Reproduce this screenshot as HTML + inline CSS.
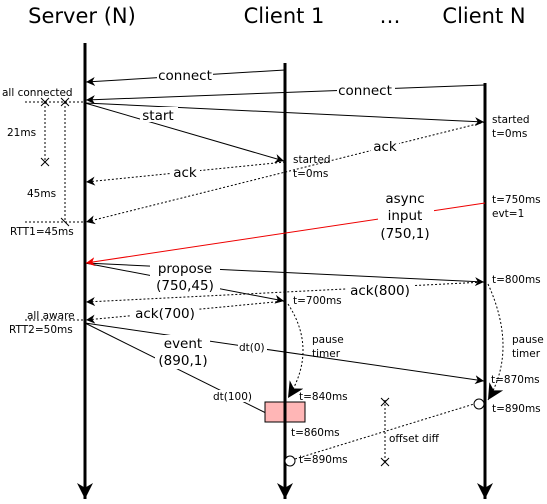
<!DOCTYPE html>
<html><head><meta charset="utf-8"><style>
html,body{margin:0;padding:0;background:#fff}
svg{display:block}
text{font-family:"DejaVu Sans","Liberation Sans",sans-serif;fill:#000}
</style></head><body>
<svg width="547" height="504" viewBox="0 0 547 504" xmlns="http://www.w3.org/2000/svg">
<defs>
<marker id="a" viewBox="0 0 10 10" refX="10" refY="5" markerWidth="9" markerHeight="9" orient="auto" markerUnits="userSpaceOnUse"><path d="M0,0 L10,5 L0,10 L3,5 z" fill="#000"/></marker>
<marker id="r" viewBox="0 0 10 10" refX="10" refY="5" markerWidth="9" markerHeight="9" orient="auto" markerUnits="userSpaceOnUse"><path d="M0,0 L10,5 L0,10 L3,5 z" fill="#e00"/></marker>
<marker id="b" viewBox="0 0 10 10" refX="10" refY="5" markerWidth="16" markerHeight="16" orient="auto" markerUnits="userSpaceOnUse"><path d="M0,0 L10,5 L0,10 L3,5 z" fill="#000"/></marker>
</defs>
<g font-size="21" text-anchor="middle">
<text x="82" y="23">Server (N)</text>
<text x="284" y="23">Client 1</text>
<text x="390" y="23">…</text>
<text x="484" y="23">Client N</text>
</g>
<g stroke="#000" stroke-width="3">
<line x1="85" y1="43" x2="85" y2="499" marker-end="url(#b)"/>
<line x1="285" y1="63" x2="285" y2="499" marker-end="url(#b)"/>
<line x1="485" y1="83" x2="485" y2="499" marker-end="url(#b)"/>
</g>
<g stroke="#000" stroke-width="1" fill="none">
<line x1="285" y1="70" x2="86" y2="82" marker-end="url(#a)"/>
<line x1="485" y1="85" x2="86" y2="100" marker-end="url(#a)"/>
<line x1="85" y1="103" x2="484" y2="122" marker-end="url(#a)"/>
<line x1="85" y1="103" x2="284" y2="161" marker-end="url(#a)"/>
<line x1="85" y1="263" x2="484" y2="282" marker-end="url(#a)"/>
<line x1="85" y1="263" x2="284" y2="301" marker-end="url(#a)"/>
<line x1="85" y1="323" x2="484" y2="381" marker-end="url(#a)"/>
<line x1="85" y1="323" x2="284" y2="422" marker-end="url(#a)"/>
</g>
<line x1="485" y1="203" x2="86" y2="263" stroke="#e00" stroke-width="1" marker-end="url(#r)"/>
<g stroke="#000" stroke-width="1" fill="none" stroke-dasharray="2,2">
<line x1="285" y1="162" x2="86" y2="182" marker-end="url(#a)"/>
<line x1="485" y1="122" x2="86" y2="222" marker-end="url(#a)"/>
<line x1="485" y1="282" x2="86" y2="302" marker-end="url(#a)"/>
<line x1="285" y1="301" x2="86" y2="320" marker-end="url(#a)"/>
<line x1="25" y1="102" x2="85" y2="102"/>
<line x1="25" y1="222" x2="85" y2="222"/>
<line x1="25" y1="320" x2="85" y2="320"/>
<line x1="45" y1="102" x2="45" y2="162"/>
<line x1="65" y1="102" x2="65" y2="222"/>
<path d="M288,304 Q318,350 288,398" marker-end="url(#b)"/>
<path d="M488,284 Q518,350 488,400" marker-end="url(#b)"/>
<line x1="295" y1="459" x2="474" y2="404"/>
<line x1="385" y1="400" x2="385" y2="462"/>
</g>
<g stroke="#000" stroke-width="1">
<path d="M41,98 l8,8 M41,106 l8,-8"/>
<path d="M61,98 l8,8 M61,106 l8,-8"/>
<path d="M41,158 l8,8 M41,166 l8,-8"/>
<path d="M61,218 l8,8"/>
<path d="M381,398 l8,8 M381,406 l8,-8"/>
<path d="M381,458 l8,8 M381,466 l8,-8"/>
</g>
<rect x="265" y="402" width="40" height="20" fill="#ffb6b6" stroke="#000" stroke-width="1"/>
<line x1="285" y1="402" x2="285" y2="422" stroke="#000" stroke-width="3"/>
<circle cx="290" cy="461" r="5" fill="#fff" stroke="#000"/>
<circle cx="479" cy="404" r="5" fill="#fff" stroke="#000"/>
<g font-size="13.5" text-anchor="middle">
<rect x="157" y="67" width="56" height="15" fill="#fff"/><text x="185" y="80">connect</text>
<rect x="337" y="82" width="58" height="15" fill="#fff"/><text x="365" y="95">connect</text>
<rect x="140" y="107" width="38" height="15" fill="#fff"/><text x="158" y="120">start</text>
<rect x="170" y="164" width="30" height="15" fill="#fff"/><text x="185" y="177">ack</text>
<rect x="371" y="138" width="28" height="15" fill="#fff"/><text x="385" y="151">ack</text>
<rect x="378" y="188" width="56" height="52" fill="#fff"/>
<text x="405" y="203">async</text><text x="405" y="220">input</text><text x="405" y="238">(750,1)</text>
<rect x="150" y="259" width="70" height="34" fill="#fff"/>
<text x="185" y="273">propose</text><text x="185" y="290">(750,45)</text>
<rect x="346" y="282" width="68" height="15" fill="#fff"/><text x="380" y="295">ack(800)</text>
<rect x="131" y="305" width="68" height="15" fill="#fff"/><text x="165" y="318">ack(700)</text>
<rect x="155" y="335" width="55" height="34" fill="#fff"/>
<text x="183" y="348">event</text><text x="183" y="365">(890,1)</text>
</g>
<g font-size="10.5">
<text x="2" y="96">all connected</text>
<text x="7" y="136">21ms</text>
<text x="27" y="197">45ms</text>
<text x="10" y="235">RTT1=45ms</text>
<text x="27" y="319">all aware</text>
<text x="9" y="333">RTT2=50ms</text>
<text x="293" y="163">started</text><text x="293" y="177">t=0ms</text>
<text x="492" y="123">started</text><text x="492" y="137">t=0ms</text>
<text x="492" y="203">t=750ms</text><text x="492" y="217">evt=1</text>
<text x="492" y="283">t=800ms</text>
<text x="293" y="304">t=700ms</text>
<text x="312" y="343">pause</text><text x="312" y="357">timer</text>
<text x="512" y="343">pause</text><text x="512" y="357">timer</text>
<text x="491" y="383">t=870ms</text>
<text x="299" y="400">t=840ms</text>
<text x="291" y="436">t=860ms</text>
<text x="299" y="463">t=890ms</text>
<text x="492" y="412">t=890ms</text>
<text x="389" y="442">offset diff</text>
<rect x="238" y="341" width="29" height="12" fill="#fff"/><text x="239" y="351">dt(0)</text>
<rect x="212" y="390" width="46" height="12" fill="#fff"/><text x="213" y="400">dt(100)</text>
</g>
</svg>
</body></html>
